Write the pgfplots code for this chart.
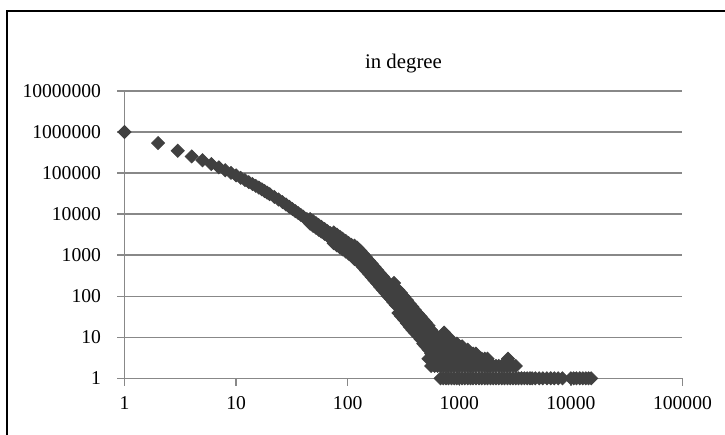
\documentclass[border=0pt]{standalone}
\usepackage{fontspec}
\setmainfont{Liberation Serif}
\usepackage{pgfplots}
\pgfplotsset{compat=1.18}
\definecolor{gridgray}{RGB}{136,136,136}
\definecolor{markgray}{RGB}{64,64,64}
\begin{document}
\begin{tikzpicture}
\useasboundingbox (-62.25pt,-28.35pt) rectangle (300.25pt,189.15pt);
\draw[line width=1pt] (-58.75pt,-40pt) -- (-58.75pt,183.65pt) -- (320pt,183.65pt);
\begin{axis}[
  at={(0,0)}, anchor=south west,
  scale only axis, width=279pt, height=143.65pt,
  xmode=log, ymode=log,
  xmin=1, xmax=100000, ymin=1, ymax=10000000,
  axis x line*=bottom, axis y line*=left,
  axis line style={-, draw=gridgray, line width=0.7pt},
  xtick={1,10,100,1000,10000,100000},
  xticklabels={1,10,100,1000,10000,100000},
  ytick={1,10,100,1000,10000,100000,1000000,10000000},
  yticklabels={1,10,100,1000,10000,100000,1000000,10000000},
  xminorticks=false, yminorticks=false,
  tick align=outside, major tick length=3.75pt,
  tick style={draw=gridgray, line width=0.7pt},
  ymajorgrids, grid style={draw=gridgray, line width=0.7pt},
  ticklabel style={font=\fontsize{9.8}{11.5}\selectfont, text=black},
  yticklabel style={xshift=-4.5pt},
  xticklabel style={yshift=-1.8pt},
  clip=false,
]
\addplot[only marks, mark=square*, mark size=2.3pt,
  mark options={rotate=45, fill=markgray, draw=markgray}] table {
x y
1 1000000
2 540000
3 350000
4 255000
5 205000
6 166000
7 138000
8 117000
9 101000
10 88000
11 76600
12 67500
13 60100
14 54000
15 48800
16 44400
17 40200
18 36500
19 33400
20 30700
22 26200
24 22700
26 19700
28 17100
30 15000
32 13300
34 11800
36 10600
38 9580
40 8700
43 7580
46 6670
46 7600
46 5850
49 5920
49 6750
49 5190
52 5290
52 6030
52 4640
55 4750
55 5420
55 4170
58 4300
58 4900
58 3770
62 3790
62 4320
62 3320
66 3360
66 3830
66 2950
70 3010
70 3430
70 2640
75 2640
75 3560
75 1960
80 2340
80 3160
80 1730
85 2080
85 2810
85 1540
90 1870
90 2520
90 1390
96 1650
96 2230
96 1220
102 1470
102 1980
102 1090
108 1320
108 1780
108 980
115 1170
115 1700
115 807
122 1050
122 1520
122 724
130 885
130 1280
130 610
138 733
138 1060
138 506
146 614
146 890
146 423
155 509
155 738
155 351
164 427
164 619
164 294
174 354
174 513
174 244
184 297
184 430
184 205
195 247
195 358
195 170
206 208
206 302
206 143
218 174
218 252
218 120
230 147
230 213
230 101
243 124
243 180
243 86
256 105
256 152
256 72
260 210
270 88
270 128
270 61
285 141
285 74
285 39
300 120
300 63
300 33
320 97
320 51
320 27
340 80
340 42
340 22
360 65
360 34
360 18
380 55
380 29
380 15
400 46
400 24
400 13
425 38
425 20
425 11
450 32
450 17
450 9
475 27
475 14
475 7
500 23
500 12
500 6
530 19
530 10
530 5
530 3
560 15
560 8
560 4
560 2
600 12
600 6
600 3
600 2
640 10
640 5
640 3
640 2
680 10
680 6
680 4
680 2
680 1
720 1
720 2
720 3
720 4
720 5
720 6
720 7
720 8
720 9
730 13
760 1
760 2
760 3
760 4
760 5
760 6
760 7
760 8
800 1
800 2
800 3
800 4
800 5
800 6
800 7
800 8
800 9
800 10
850 1
850 2
850 3
850 4
850 5
850 6
850 7
850 8
900 1
900 2
900 3
900 4
900 5
900 6
900 7
950 1
950 2
950 3
950 4
950 5
950 6
950 7
1000 1
1000 2
1000 3
1000 4
1000 5
1000 6
1060 1
1060 2
1060 3
1060 4
1060 5
1060 6
1120 1
1120 2
1120 3
1120 4
1120 5
1190 1
1190 2
1190 3
1190 4
1190 5
1260 1
1260 2
1260 3
1260 4
1330 1
1330 2
1330 3
1330 4
1410 1
1410 2
1410 3
1410 4
1500 1
1500 2
1500 3
1590 1
1590 2
1590 3
1690 1
1690 2
1690 3
1790 1
1790 2
1790 3
1900 1
1900 2
2010 1
2010 2
2130 1
2130 2
2260 1
2260 2
2400 1
2400 2
2540 1
2540 2
2700 1
2700 2
2735 3
2860 1
2860 2
3030 1
3030 2
3210 1
3210 2
3400 1
3610 1
3830 1
4060 1
4300 1
4500 1
4800 1
5200 1
5600 1
6100 1
6600 1
7100 1
7700 1
8400 1
10000 1
10600 1
11200 1
12000 1
12800 1
13600 1
14400 1
15200 1
};
\node[anchor=base, font=\fontsize{10.4}{12.5}\selectfont] at (rel axis cs:0.5,1) [yshift=11pt] {in degree};
\end{axis}
\end{tikzpicture}
\end{document}
